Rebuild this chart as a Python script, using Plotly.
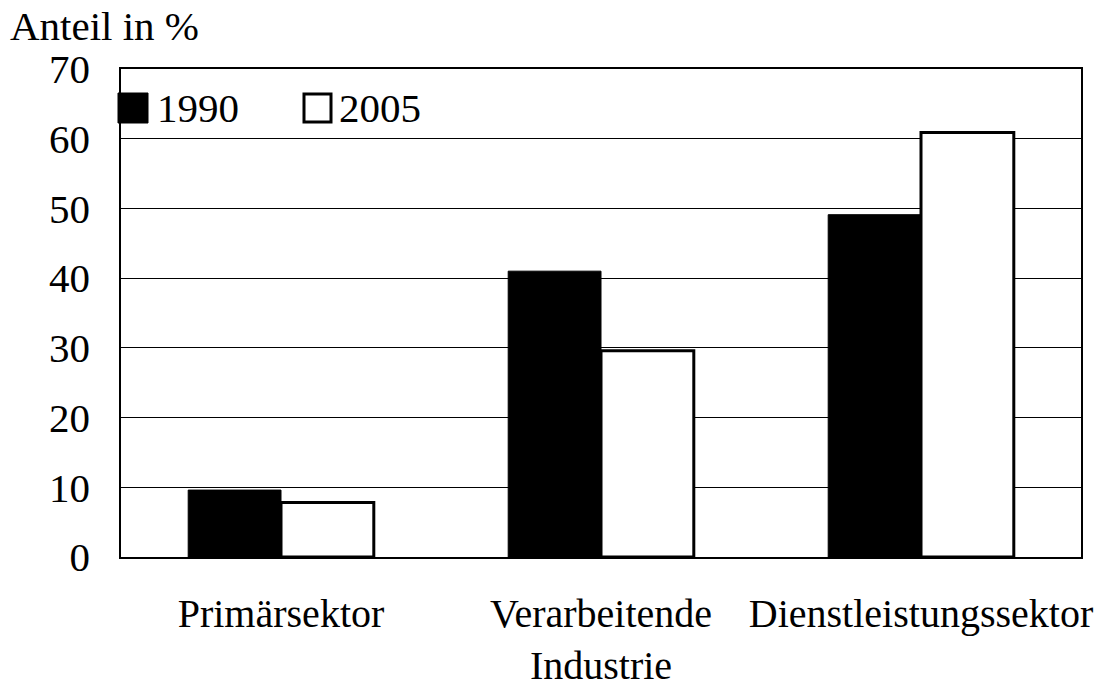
import plotly.graph_objects as go

categories = ["Primärsektor", "Verarbeitende<br>Industrie", "Dienstleistungssektor"]
series_names = ["1990", "2005"]
values_1990 = [9.6, 41.0, 49.1]
values_2005 = [7.8, 29.6, 60.9]
y_ticks = [0, 10, 20, 30, 40, 50, 60, 70]

W, H = 1114, 683
L, R, T, B = 121, 33, 69, 126
PW, PH = W - L - R, H - T - B
FONT = "Liberation Serif, Times New Roman, serif"
FS = 41

def px_x(x):
    return (x - L) / PW

def px_y(y):
    return (H - B - y) / PH

fig = go.Figure()
fig.add_trace(go.Bar(x=categories, y=values_1990, name=series_names[0],
                     marker=dict(color="black", line=dict(color="black", width=1))))
fig.add_trace(go.Bar(x=categories, y=values_2005, name=series_names[1],
                     marker=dict(color="white", line=dict(color="black", width=3))))

fig.update_layout(
    width=W, height=H,
    margin=dict(l=L, r=R, t=T, b=B, autoexpand=False),
    paper_bgcolor="white", plot_bgcolor="white",
    barmode="group", bargap=0.42, bargroupgap=0,
    showlegend=False,
    font=dict(family=FONT, size=FS, color="black"),
    xaxis=dict(showline=True, linecolor="black", linewidth=1.5, mirror=True,
               showgrid=False, ticks="", ticklabelstandoff=20, automargin=False,
               tickfont=dict(family=FONT, size=40, color="black")),
    yaxis=dict(range=[0, 70], tickvals=y_ticks, showline=True, linecolor="black",
               linewidth=1.5, mirror=True, showgrid=True, gridcolor="black",
               gridwidth=1, ticks="", ticklabelstandoff=21, zeroline=False,
               automargin=False,
               tickfont=dict(family=FONT, size=FS, color="black")),
)

# legend decorations
fig.add_shape(type="rect", xref="paper", yref="paper",
              x0=px_x(118), x1=px_x(148), y0=px_y(123), y1=px_y(93),
              fillcolor="black", line=dict(color="black", width=1))
fig.add_shape(type="rect", xref="paper", yref="paper",
              x0=px_x(304), x1=px_x(331), y0=px_y(122), y1=px_y(94),
              fillcolor="white", line=dict(color="black", width=3))
fig.add_annotation(text=series_names[0], xref="paper", yref="paper",
                   x=px_x(155), y=px_y(108), xanchor="left", yanchor="middle",
                   showarrow=False, font=dict(family=FONT, size=FS, color="black"))
fig.add_annotation(text=series_names[1], xref="paper", yref="paper",
                   x=px_x(337), y=px_y(108), xanchor="left", yanchor="middle",
                   showarrow=False, font=dict(family=FONT, size=FS, color="black"))
fig.add_annotation(text="Anteil in %", xref="paper", yref="paper",
                   x=px_x(8), y=px_y(26), xanchor="left", yanchor="middle",
                   showarrow=False, font=dict(family=FONT, size=FS, color="black"))

fig.write_html("out.html", config={"displayModeBar": False},
               post_script="document.body.style.margin='0';document.body.style.overflow='hidden';")
